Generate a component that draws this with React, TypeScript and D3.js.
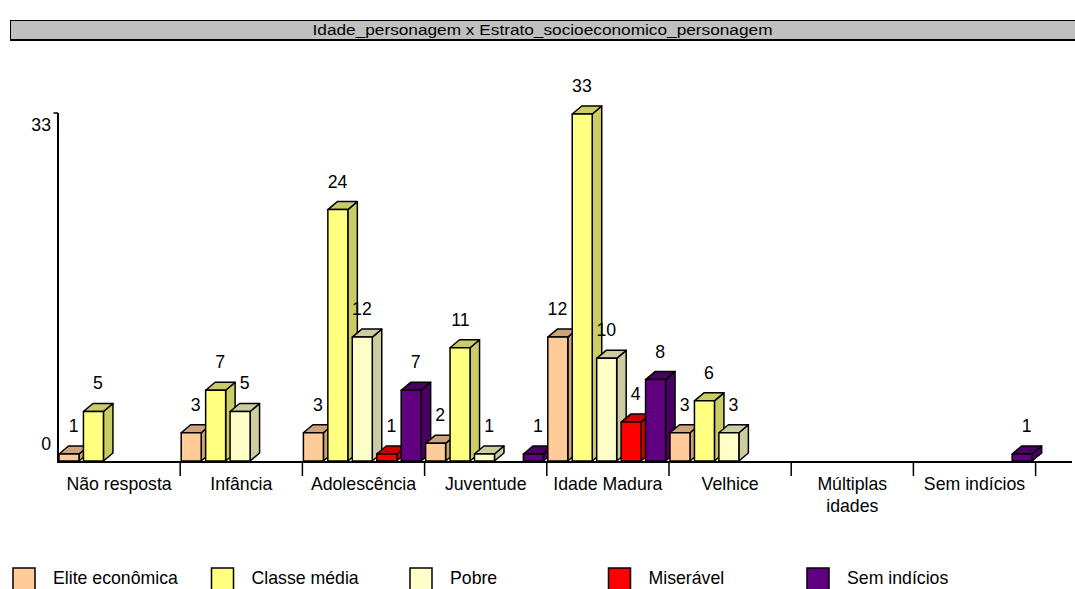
import React from "react";
import * as d3 from "d3";

const categories = ["Não resposta", "Infância", "Adolescência", "Juventude", "Idade Madura", "Velhice", "Múltiplas idades", "Sem indícios"];
const seriesNames = ["Elite econômica", "Classe média", "Pobre", "Miserável", "Sem indícios"];
const elite = [1, 3, 3, 2, 12, 3, 0, 0];
const classeMedia = [5, 7, 24, 11, 33, 6, 0, 0];
const pobre = [0, 5, 12, 1, 10, 3, 0, 0];
const miseravel = [0, 0, 1, 0, 4, 0, 0, 0];
const semIndicios = [0, 0, 7, 1, 8, 0, 0, 1];
const yTicks = [0, 33];
const title = "Idade_personagem x Estrato_socioeconomico_personagem";

const seriesValues = [elite, classeMedia, pobre, miseravel, semIndicios];
const frontColors = ["#FFCC99", "#FFFF80", "#FFFFC8", "#FF0000", "#600080"];
const sideColors = ["#CCA37A", "#CCCC66", "#CCCCA0", "#CC0000", "#4A0062"];

const W = 1075;
const H = 589;
const FONT = "'Liberation Sans', Arial, sans-serif";
const FS = 17.7;

export default function App() {
  const x0 = d3.scaleBand<string>().domain(categories).range([58, 1035.6]);
  const x1 = d3.scaleBand<string>().domain(seriesNames).range([0, x0.bandwidth()]);
  const y = d3.scaleLinear().domain([0, 33]).range([464.6, 114]);
  const baseY = 461;
  const dx = 9.5;
  const dy = 8;
  const barW = 20;

  const bars: any[] = [];
  const labels: any[] = [];
  categories.forEach((c, ci) => {
    seriesNames.forEach((s, si) => {
      const v = seriesValues[si][ci];
      if (!v) return;
      const x = (x0(c) as number) + (x1(s) as number) + 1;
      const yt = y(v);
      const side = `M${x + barW},${yt} L${x + barW + dx},${yt - dy} L${x + barW + dx},${baseY - dy} L${x + barW},${baseY} Z`;
      const top = `M${x},${yt} L${x + dx},${yt - dy} L${x + barW + dx},${yt - dy} L${x + barW},${yt} Z`;
      bars.push(
        <g key={`b${ci}-${si}`} stroke="#000" strokeWidth={1.5} strokeLinejoin="round">
          <path d={side} fill={sideColors[si]} />
          <path d={top} fill={sideColors[si]} />
          <rect x={x} y={yt} width={barW} height={baseY - yt} fill={frontColors[si]} />
        </g>
      );
      labels.push(
        <text key={`l${ci}-${si}`} x={x + barW / 2 + 9.5} y={yt - dy - 14} textAnchor="end" fontSize={FS} fill="#000">
          {v}
        </text>
      );
    });
  });

  const tickXs = categories.slice(1).map((c) => x0(c) as number).concat([(x0(categories[categories.length - 1]) as number) + x0.bandwidth()]);

  return (
    <svg width={W} height={H} style={{ position: "absolute", left: 0, top: 0, background: "#fff" }} fontFamily={FONT}>
      <rect x={0} y={0} width={W} height={H} fill="#fff" />
      {/* title bar */}
      <rect x={10.5} y={20.5} width={W + 10} height={19} fill="#C0C0C0" stroke="#000" strokeWidth={1} />
      <line x1={10} x2={W} y1={40} y2={40} stroke="#000" strokeWidth={2} />
      <text x={542.5} y={35} textAnchor="middle" fontSize={15.5} textLength={460} lengthAdjust="spacingAndGlyphs">
        {title}
      </text>

      {/* y axis */}
      <line x1={58} x2={58} y1={y(33) - 1} y2={462} stroke="#000" strokeWidth={2} />
      <line x1={53.5} x2={58} y1={y(33) - 1} y2={y(33) - 1} stroke="#000" strokeWidth={1.5} />
      {yTicks.map((t) => (
        <text key={t} x={51} y={t === 0 ? y(0) - 14.6 : y(t) + 17} textAnchor="end" fontSize={FS}>
          {t}
        </text>
      ))}

      {bars}

      {/* x axis */}
      <line x1={57} x2={1072} y1={462} y2={462} stroke="#000" strokeWidth={2} />
      {tickXs.map((tx, i) => (
        <line key={i} x1={tx} x2={tx} y1={462} y2={476} stroke="#000" strokeWidth={1.5} />
      ))}
      {categories.map((c) => {
        const cx = (x0(c) as number) + x0.bandwidth() / 2;
        const lines = c.length > 14 ? c.split(" ") : [c];
        return (
          <text key={c} x={cx} y={490} textAnchor="middle" fontSize={FS}>
            {lines.map((ln, i) => (
              <tspan key={i} x={cx} dy={i === 0 ? 0 : 22}>
                {ln}
              </tspan>
            ))}
          </text>
        );
      })}

      {labels}

      {/* legend */}
      {seriesNames.map((s, i) => {
        const lx = 13 + i * 198.5;
        return (
          <g key={s}>
            <rect x={lx} y={568} width={22} height={22} fill={frontColors[i]} stroke="#000" strokeWidth={1.5} />
            <text x={lx + 40} y={583.5} fontSize={FS}>
              {s}
            </text>
          </g>
        );
      })}
    </svg>
  );
}
